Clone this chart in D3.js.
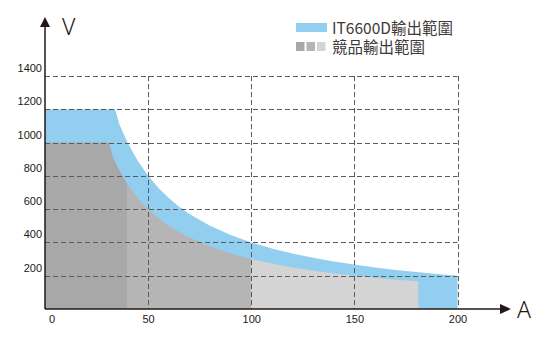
<!DOCTYPE html>
<html>
<head>
<meta charset="utf-8">
<script src="https://cdn.jsdelivr.net/npm/d3@7"></script>
<style>
  body { margin: 0; background: #fff; }
  svg text { font-family: "Liberation Sans", Arial, sans-serif; }
</style>
</head>
<body>
<div id="chart"></div>
<script>
// IT6600D output range (current A, voltage V)
var blueA = [0, 34, 36, 40, 45, 50, 55, 60, 65, 70, 80, 90, 100, 110, 120, 130, 140, 150, 160, 170, 180, 190, 200];
var blueV = [1200, 1200, 1111, 1000, 889, 800, 727, 667, 615, 571, 500, 444, 400, 364, 333, 308, 286, 267, 250, 235, 222, 211, 200];
// competitor output range
var grayA = [0, 31, 33, 36, 40, 45, 50, 55, 60, 65, 70, 80, 90, 100, 110, 120, 130, 140, 150, 160, 170, 181];
var grayV = [1000, 1000, 909, 833, 750, 667, 600, 545, 500, 462, 429, 375, 333, 300, 273, 250, 231, 214, 200, 188, 176, 166];
var grayBands = [[0, 40], [40, 100], [100, 181]];
var grayColors = ["#a7a8a7", "#b5b5b5", "#d4d4d4"];
var xTicks = [0, 50, 100, 150, 200];
var yTicks = [200, 400, 600, 800, 1000, 1200, 1400];
var legendLabels = ["IT6600D輸出範圍", "競品輸出範圍"];

var width = 550, height = 354;
var svg = d3.select("#chart").append("svg")
  .attr("width", width).attr("height", height);

var x = d3.scaleLinear().domain([0, 200]).range([45, 457.5]);
var y = d3.scaleLinear().domain([0, 1400]).range([309, 76]);

var blue = blueA.map(function(a, i) { return [a, blueV[i]]; });
var gray = grayA.map(function(a, i) { return [a, grayV[i]]; });

var area = d3.area()
  .x(function(d) { return x(d[0]); })
  .y0(y(0))
  .y1(function(d) { return y(d[1]); });

svg.append("path").datum(blue).attr("d", area).attr("fill", "#92cef0");

grayBands.forEach(function(b, i) {
  var pts = gray.filter(function(d) { return d[0] >= b[0] && d[0] <= b[1]; });
  svg.append("path").datum(pts).attr("d", area).attr("fill", grayColors[i]);
});

// dashed grid on top
var grid = svg.append("g").attr("stroke", "#5a5a5a").attr("stroke-width", 1)
  .attr("stroke-dasharray", "5,3").attr("fill", "none");
grid.selectAll(".h").data(yTicks).enter().append("line")
  .attr("x1", x(0)).attr("x2", x(200))
  .attr("y1", function(d) { return Math.round(y(d)) + 0.5; })
  .attr("y2", function(d) { return Math.round(y(d)) + 0.5; });
grid.selectAll(".v").data(xTicks.slice(1)).enter().append("line")
  .attr("y1", y(1400)).attr("y2", y(0))
  .attr("x1", function(d) { return Math.round(x(d)) + 0.5; })
  .attr("x2", function(d) { return Math.round(x(d)) + 0.5; });

// axes with arrows
var ax = svg.append("g").attr("stroke", "#231815").attr("stroke-width", 1.5);
ax.append("line").attr("x1", x(0)).attr("x2", 501).attr("y1", y(0)).attr("y2", y(0));
ax.append("line").attr("x1", x(0)).attr("x2", x(0)).attr("y1", y(0)).attr("y2", 27);
svg.append("path").attr("d", "M500,304 L511,309 L500,314 Z").attr("fill", "#231815");
svg.append("path").attr("d", "M40,27 L45,17 L50,27 Z").attr("fill", "#231815");

svg.append("text").attr("x", 62).attr("y", 35).text("V")
  .style("font-family", "'Noto Sans', sans-serif").style("font-weight", 300)
  .style("font-size", "23px").attr("fill", "#231815");
svg.append("text").attr("x", 517).attr("y", 318).text("A")
  .style("font-family", "'Noto Sans', sans-serif").style("font-weight", 300)
  .style("font-size", "23px").attr("fill", "#231815");

// tick labels
svg.selectAll(".yl").data(yTicks).enter().append("text")
  .attr("x", 42).attr("y", function(d) { return y(d) - 4; })
  .attr("text-anchor", "end").style("font-size", "11px").attr("fill", "#231815")
  .text(function(d) { return d; });
svg.selectAll(".xl").data(xTicks).enter().append("text")
  .attr("x", function(d) { return d === 0 ? 52 : x(d) + 0.5; })
  .attr("y", 323)
  .attr("text-anchor", "middle").style("font-size", "11px").attr("fill", "#231815")
  .text(function(d) { return d; });

// legend
var lg = svg.append("g");
lg.append("rect").attr("x", 296).attr("y", 23).attr("width", 31).attr("height", 9).attr("fill", "#92cef0");
grayColors.forEach(function(c, i) {
  lg.append("rect").attr("x", 296 + i * 10.5).attr("y", 42).attr("width", 8.5).attr("height", 9).attr("fill", c);
});
legendLabels.forEach(function(t, i) {
  lg.append("text").attr("x", 332).attr("y", 34 + i * 19).text(t)
    .style("font-family", "'Noto Sans CJK TC', sans-serif").style("font-size", "15.5px")
    .attr("fill", "#3e3a39");
});
</script>
</body>
</html>
